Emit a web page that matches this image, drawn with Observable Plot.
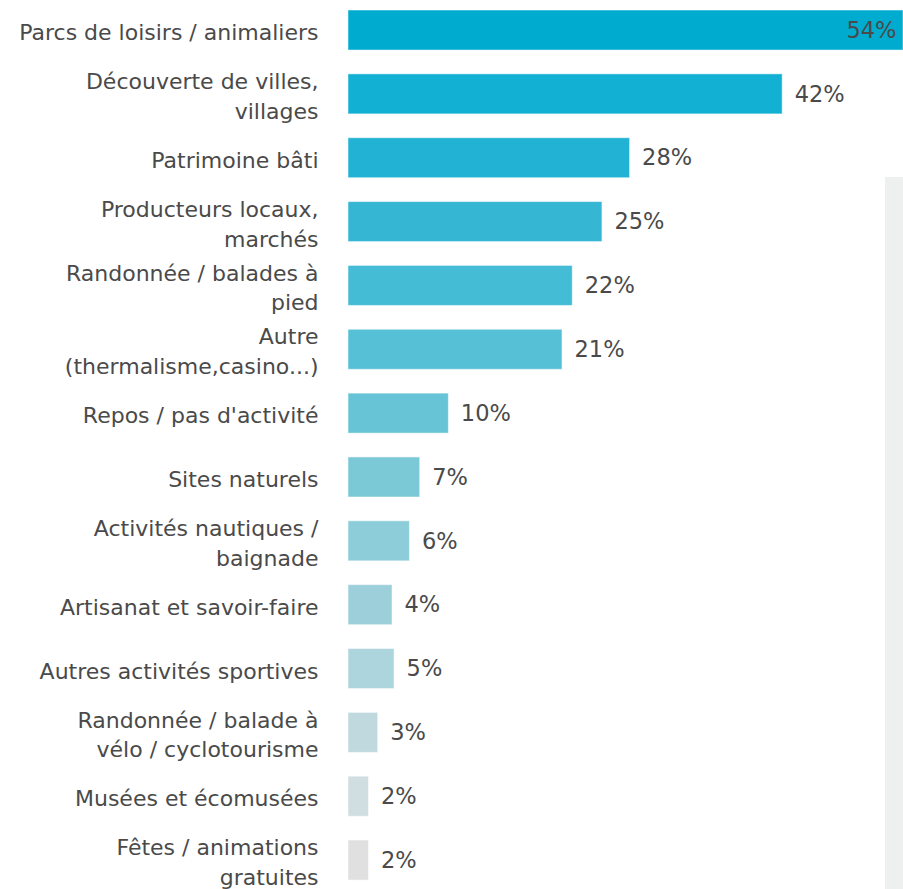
<!DOCTYPE html>
<html>
<head>
<meta charset="utf-8">
<script src="https://cdn.jsdelivr.net/npm/d3@7"></script>
<script src="https://cdn.jsdelivr.net/npm/@observablehq/plot@0.6"></script>
<style>
  html, body { margin: 0; padding: 0; background: #ffffff; }
  #wrap { position: relative; width: 903px; height: 889px; overflow: hidden; }
  #panel { position: absolute; left: 885px; top: 177px; width: 18px; height: 712px; background: #eef0f0; }
  #chart { position: absolute; left: 0; top: 0; }
</style>
</head>
<body>
<div id="wrap"><div id="panel"></div><div id="chart"></div></div>
<script>
const categories = [
  "Parcs de loisirs / animaliers",
  "Découverte de villes,\nvillages",
  "Patrimoine bâti",
  "Producteurs locaux,\nmarchés",
  "Randonnée / balades à\npied",
  "Autre\n(thermalisme,casino...)",
  "Repos / pas d'activité",
  "Sites naturels",
  "Activités nautiques /\nbaignade",
  "Artisanat et savoir-faire",
  "Autres activités sportives",
  "Randonnée / balade à\nvélo / cyclotourisme",
  "Musées et écomusées",
  "Fêtes / animations\ngratuites"
];
const values = [54.2, 42.4, 27.5, 24.8, 21.9, 20.9, 9.8, 7.0, 6.0, 4.3, 4.5, 2.9, 2.0, 2.0];
const valueLabels = ["54%", "42%", "28%", "25%", "22%", "21%", "10%", "7%", "6%", "4%", "5%", "3%", "2%", "2%"];
const colors = ["#00abd0", "#12b0d3", "#22b3d4", "#35b7d3", "#45bcd5", "#56c0d7", "#67c4d6", "#7bc8d7", "#8ccdd9", "#9ccfda", "#acd5dd", "#bfd9de", "#d0dde1", "#e0e0e0"];

const data = categories.map((c, i) => ({cat: c, value: values[i], label: valueLabels[i], color: colors[i], inside: i === 0}));
const font = "'DejaVu Sans', sans-serif";

const chart = Plot.plot({
  width: 903,
  height: 889,
  marginLeft: 348,
  marginRight: 0,
  marginTop: 0,
  marginBottom: 0,
  style: {background: "transparent", fontFamily: font},
  x: {domain: [0, 54.2], axis: null},
  y: {domain: categories, range: [-1.9, 892], paddingInner: 0.373, paddingOuter: 0.1865, round: false, axis: null},
  marks: [
    Plot.barX(data, {y: "cat", x: "value", fill: "color", stroke: "#ffffff", strokeOpacity: 0.5, strokeWidth: 1}),
    Plot.text(data, {y: "cat", x: 0, text: "cat", textAnchor: "end", dx: -30, fontSize: 22, lineHeight: 1.36, fill: "#4a4a4a"}),
    Plot.text(data.filter(d => !d.inside), {y: "cat", x: "value", text: "label", textAnchor: "start", dx: 12, fontSize: 22.5, fill: "#4a4a4a"}),
    Plot.text(data.filter(d => d.inside), {y: "cat", x: "value", text: "label", textAnchor: "end", dx: -7, fontSize: 22.5, fill: "#4a4a4a"})
  ]
});
document.getElementById("chart").appendChild(chart);
</script>
</body>
</html>
